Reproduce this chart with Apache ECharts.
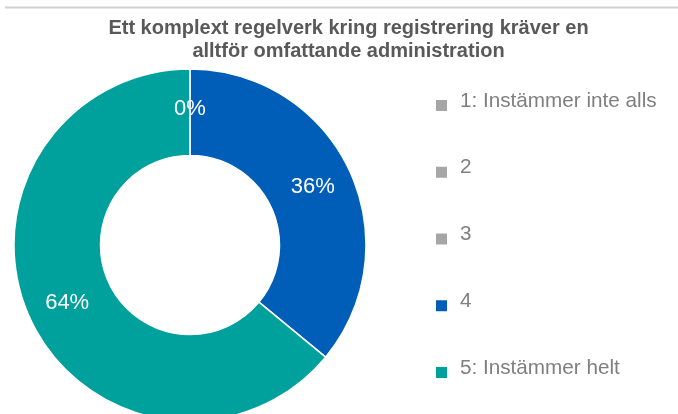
<!DOCTYPE html>
<html>
<head>
<meta charset="utf-8">
<script src="https://cdn.jsdelivr.net/npm/echarts@6/dist/echarts.min.js"></script>
<style>
  html, body { margin: 0; padding: 0; background: #fff; }
  #chart { width: 678px; height: 414px; }
</style>
</head>
<body>
<div id="chart"></div>
<script>
const titleLines = ['Ett komplext regelverk kring registrering kräver en', 'alltför omfattande administration'];
const categories = ['1: Instämmer inte alls', '2', '3', '4', '5: Instämmer helt'];
const values = [0, 0, 0, 36, 64];
const colors = ['#A6A6A6', '#A6A6A6', '#A6A6A6', '#005EB8', '#00A19D'];

const chart = echarts.init(document.getElementById('chart'), null, { renderer: 'canvas' });
const font = '"Liberation Sans", Arial, Helvetica, sans-serif';

chart.setOption({
  animation: false,
  color: colors,
  graphic: [
    {
      type: 'line',
      shape: { x1: 5, y1: 7.5, x2: 678, y2: 7.5 },
      style: { stroke: '#D0D0D0', lineWidth: 2 }
    },
    {
      type: 'text',
      x: 348.5,
      y: 16.5,
      style: {
        text: titleLines.join('\n'),
        font: 'bold 20px ' + font,
        fill: '#595959',
        align: 'center',
        verticalAlign: 'top',
        lineHeight: 23.5
      }
    }
  ],
  legend: {
    orient: 'vertical',
    left: 431,
    top: 85,
    padding: 5,
    itemGap: 44.75,
    itemWidth: 19,
    itemHeight: 20,
    icon: 'path://M0,0 M0,9 L11,9 L11,20 L0,20 Z M19,0',
    itemStyle: { borderWidth: 0 },
    textStyle: {
      fontFamily: font,
      fontSize: 20.7,
      lineHeight: 22,
      color: '#7F7F7F'
    },
    data: categories
  },
  series: [{
    type: 'pie',
    center: [190, 245],
    radius: [89.5, 176],
    startAngle: 90,
    clockwise: true,
    avoidLabelOverlap: false,
    itemStyle: { borderColor: '#fff', borderWidth: 1.5 },
    label: {
      show: true,
      position: 'inside',
      color: '#fff',
      fontFamily: font,
      fontSize: 22,
      formatter: p => Math.round(p.percent) + '%'
    },
    labelLine: { show: false },
    emphasis: { disabled: true },
    data: categories.map((c, i) => ({ name: c, value: values[i], itemStyle: { color: colors[i] } }))
  }]
});
</script>
</body>
</html>
